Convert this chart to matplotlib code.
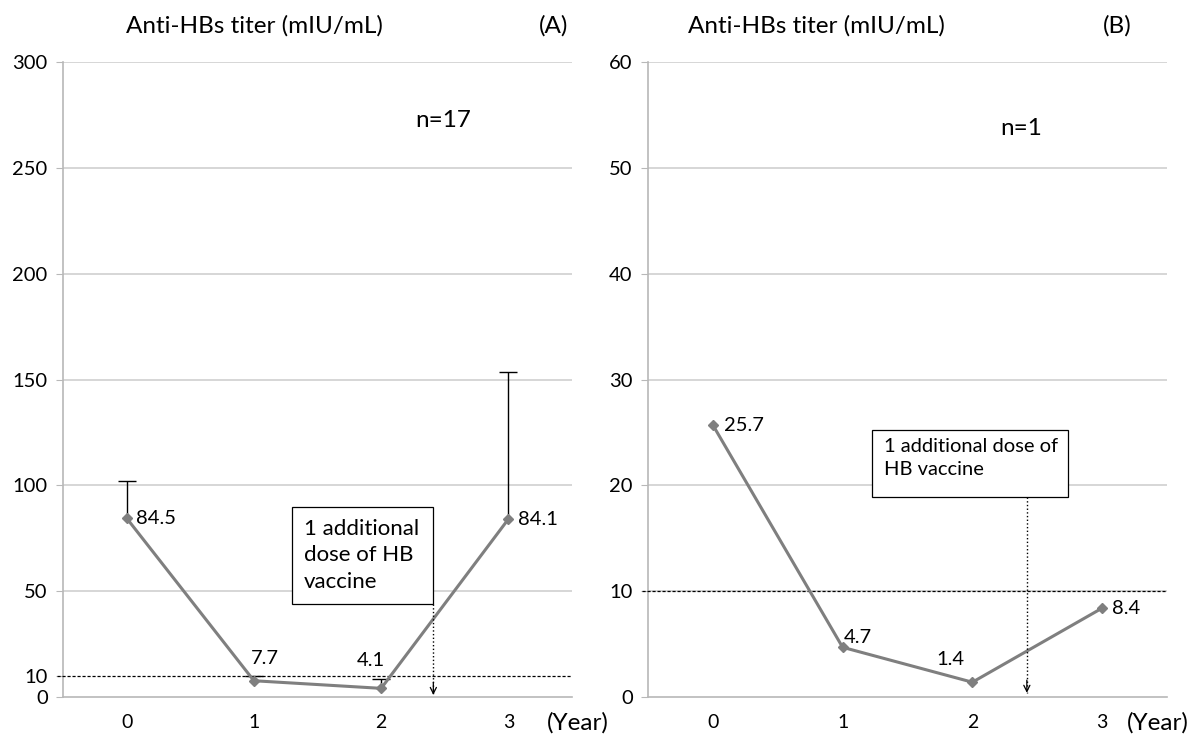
import matplotlib.pyplot as plt
from matplotlib.patches import Rectangle

plt.rcParams['font.family'] = ['Lato', 'DejaVu Sans']

# data
years = ['0', '1', '2', '3']
x_pos = [0, 1, 2, 3]

titer_a = [84.5, 7.7, 4.1, 84.1]
err_up_a = [17.5, 2.2, 4.5, 69.3]
titer_b = [25.7, 4.7, 1.4, 8.4]

yticks_a = [0, 10, 50, 100, 150, 200, 250, 300]
yticks_b = [0, 10, 20, 30, 40, 50, 60]
cutoff = 10

LINE = '#7f7f7f'
GRID = '#d0d0d0'
AXIS = '#b8b8b8'
LBL = 14.5


def style_axes(ax, ymax, yticks, grid_skip):
    ax.set_xlim(-0.5, 3.5)
    ax.set_ylim(0, ymax)
    ax.set_xticks(x_pos, years)
    ax.set_yticks(yticks)
    for s in ['top', 'right']:
        ax.spines[s].set_visible(False)
    for s in ['left', 'bottom']:
        ax.spines[s].set_color(AXIS)
        ax.spines[s].set_linewidth(1.2)
    ax.tick_params(axis='x', length=0, pad=12, labelsize=14)
    ax.tick_params(axis='y', length=5, color=AXIS, labelsize=14.5, pad=6)
    ax.yaxis.grid(True, color=GRID, lw=1.2)
    ax.set_axisbelow(True)
    for i, t in enumerate(ax.yaxis.get_major_ticks()):
        if yticks[i] in grid_skip:
            t.gridline.set_visible(False)
    # threshold line at 10 mIU/mL
    ax.plot([-0.55, 3.5], [cutoff, cutoff], ls=(0, (2.5, 1.5)), color='black',
            lw=0.9, clip_on=False, zorder=3)


def dose_note(ax, x0, y0, w, h, text, size, arrow_x, arrow_top, arrow_tip):
    ax.add_patch(Rectangle((x0, y0), w, h, fill=True, fc='white', ec='black',
                           lw=0.9, zorder=4))
    ax.text(x0 + 0.09, y0 + h - 0.12 * h, text, ha='left', va='top',
            fontsize=size, linespacing=1.4, zorder=5)
    ax.plot([arrow_x, arrow_x], [arrow_top, arrow_tip], ls=':', color='black',
            lw=1.0, zorder=4)
    ax.annotate('', xy=(arrow_x, arrow_tip), xytext=(arrow_x, arrow_tip + 0.02 * ax.get_ylim()[1]),
                arrowprops=dict(arrowstyle='->', lw=0.9, color='black',
                                mutation_scale=11, shrinkA=0, shrinkB=0), zorder=4)


fig = plt.figure(figsize=(11.98, 7.42), dpi=100)
ax_a = fig.add_axes([0.0526, 0.0606, 0.4249, 0.8558])
ax_b = fig.add_axes([0.5409, 0.0606, 0.4332, 0.8558])

# ---- panel A ----
style_axes(ax_a, 300, yticks_a, [0, 10])
eb = ax_a.errorbar(x_pos, titer_a, yerr=[[0] * 4, err_up_a], fmt='none',
                   ecolor='black', elinewidth=1.0, capsize=6.5, capthick=1.0, zorder=2)
eb[1][0].set_visible(False)
ax_a.plot(x_pos, titer_a, color=LINE, lw=2.2, marker='D', ms=5, zorder=3)
ax_a.annotate(f'{titer_a[0]}', (x_pos[0], titer_a[0]), xytext=(7, 0),
              textcoords='offset points', ha='left', va='center', fontsize=LBL)
ax_a.annotate(f'{titer_a[1]}', (x_pos[1], titer_a[1]), xytext=(-2, 10),
              textcoords='offset points', ha='left', va='bottom', fontsize=LBL)
ax_a.annotate(f'{titer_a[2]}', (x_pos[2], titer_a[2]), xytext=(3, 14),
              textcoords='offset points', ha='right', va='bottom', fontsize=LBL)
ax_a.annotate(f'{titer_a[3]}', (x_pos[3], titer_a[3]), xytext=(7, 0),
              textcoords='offset points', ha='left', va='center', fontsize=LBL)
dose_note(ax_a, 1.30, 43.9, 1.11, 45.8, '1 additional\ndose of HB\nvaccine', 16,
          2.41, 43.9, 1.0)
ax_a.text(0.747, 0.908, 'n=17', transform=ax_a.transAxes, fontsize=17.5,
          ha='center', va='center')

# ---- panel B ----
style_axes(ax_b, 60, yticks_b, [0])
ax_b.plot(x_pos, titer_b, color=LINE, lw=2.2, marker='D', ms=5, zorder=3)
ax_b.annotate(f'{titer_b[0]}', (x_pos[0], titer_b[0]), xytext=(8, 0),
              textcoords='offset points', ha='left', va='center', fontsize=LBL)
ax_b.annotate(f'{titer_b[1]}', (x_pos[1], titer_b[1]), xytext=(1, 1),
              textcoords='offset points', ha='left', va='bottom', fontsize=LBL)
ax_b.annotate(f'{titer_b[2]}', (x_pos[2], titer_b[2]), xytext=(-6, 10),
              textcoords='offset points', ha='right', va='bottom', fontsize=LBL)
ax_b.annotate(f'{titer_b[3]}', (x_pos[3], titer_b[3]), xytext=(7, 0),
              textcoords='offset points', ha='left', va='center', fontsize=LBL)
dose_note(ax_b, 1.226, 18.9, 1.511, 6.3, '1 additional dose of\nHB vaccine', 14.5,
          2.42, 18.9, 0.4)
ax_b.text(0.719, 0.896, 'n=1', transform=ax_b.transAxes, fontsize=17.5,
          ha='center', va='center')

# titles, panel letters and x unit
for tx in [254, 816]:
    fig.text(tx / 1198, 1 - 26 / 742, 'Anti-HBs titer (mIU/mL)', fontsize=17.5,
             ha='center', va='center')
fig.text(554 / 1198, 1 - 26 / 742, '(A)', fontsize=17.5, ha='center', va='center')
fig.text(1117 / 1198, 1 - 26 / 742, '(B)', fontsize=17.5, ha='center', va='center')
fig.text(578 / 1198, 1 - 723 / 742, '(Year)', fontsize=17.5, ha='center', va='center')
fig.text(1158 / 1198, 1 - 723 / 742, '(Year)', fontsize=17.5, ha='center', va='center')

fig.savefig('out.png', dpi=100)
